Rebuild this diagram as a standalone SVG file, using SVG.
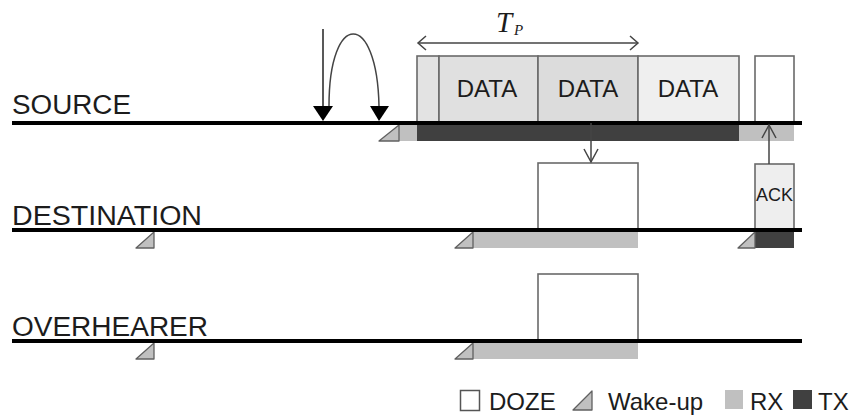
<svg xmlns="http://www.w3.org/2000/svg" width="861" height="417" viewBox="0 0 861 417">
<style>
.lbl{font-family:"Liberation Sans",Arial,sans-serif;font-size:27px;fill:#1c1c1c}
.dt{font-family:"Liberation Sans",Arial,sans-serif;font-size:24px;fill:#1c1c1c;text-anchor:middle}
.lg{font-family:"Liberation Sans",Arial,sans-serif;font-size:24px;fill:#1c1c1c}
.axis{stroke:#000;stroke-width:4;fill:none}
.box{stroke:#6a6a6a;stroke-width:1.6}
.rx{fill:#c0c0c0}
.tx{fill:#404040}
.wk{fill:#c0c0c0;stroke:#606060;stroke-width:1.3;stroke-linejoin:round}
.ln{stroke:#444;stroke-width:1.5;fill:none}
</style>
<rect width="861" height="417" fill="#fff"/>

<g id="source">
  <text class="lbl" x="12" y="114" textLength="119" lengthAdjust="spacingAndGlyphs">SOURCE</text>
  <rect class="box" x="417" y="56" width="22" height="67" fill="#e3e3e3"/>
  <rect class="box" x="439" y="56" width="99" height="67" fill="#e0e0e0"/>
  <rect class="box" x="538" y="56" width="100" height="67" fill="#dcdcdc"/>
  <rect class="box" x="638" y="56" width="101" height="67" fill="#efefef"/>
  <rect class="box" x="755" y="56" width="39" height="67" fill="#fff"/>
  <text class="dt" x="487" y="97">DATA</text>
  <text class="dt" x="588" y="97">DATA</text>
  <text class="dt" x="688" y="97">DATA</text>
  <rect class="rx" x="399" y="125" width="18" height="16"/>
  <rect class="tx" x="417" y="125" width="322" height="16"/>
  <rect class="rx" x="739" y="125" width="55" height="16"/>
  <polygon class="wk" points="379,141 399,125 399,141"/>
  <line class="axis" x1="12" y1="123" x2="802" y2="123"/>
</g>

<g id="destination">
  <text class="lbl" x="12" y="225" textLength="190" lengthAdjust="spacingAndGlyphs">DESTINATION</text>
  <rect class="box" x="538" y="163" width="100" height="67" fill="#fff"/>
  <rect class="box" x="755" y="164" width="39" height="66" fill="#eeeeee"/>
  <text x="774.5" y="201" font-family="Liberation Sans, Arial, sans-serif" font-size="18" fill="#1c1c1c" text-anchor="middle">ACK</text>
  <rect class="rx" x="473" y="232" width="165" height="16"/>
  <rect class="tx" x="755" y="232" width="39" height="16"/>
  <polygon class="wk" points="136,248 154,232 154,248"/>
  <polygon class="wk" points="455,248 473,232 473,248"/>
  <polygon class="wk" points="738,248 755,232 755,248"/>
  <line class="axis" x1="12" y1="230" x2="802" y2="230"/>
</g>

<g id="overhearer">
  <text class="lbl" x="12" y="336" textLength="196" lengthAdjust="spacingAndGlyphs">OVERHEARER</text>
  <rect class="box" x="538" y="274" width="100" height="67" fill="#fff"/>
  <rect class="rx" x="473" y="343" width="165" height="16"/>
  <polygon class="wk" points="136,359 154,343 154,359"/>
  <polygon class="wk" points="455,359 473,343 473,359"/>
  <line class="axis" x1="12" y1="341" x2="802" y2="341"/>
</g>

<g id="tp">
  <line class="ln" x1="418" y1="43" x2="638" y2="43"/>
  <polyline class="ln" points="426,36 418,43 426,50"/>
  <polyline class="ln" points="630,36 638,43 630,50"/>
  <text x="496" y="32" font-family="Liberation Serif, Times New Roman, serif" font-style="italic" font-size="29" fill="#1c1c1c">T</text>
  <text x="514" y="35" font-family="Liberation Serif, Times New Roman, serif" font-style="italic" font-size="15" fill="#1c1c1c">P</text>
</g>

<g id="connectors">
  <line x1="323" y1="29" x2="323" y2="108" stroke="#222" stroke-width="1.5"/>
  <polygon points="313,106 333,106 323,121" fill="#000"/>
  <path class="ln" d="M329 106 C329 10 377 10 379 106"/>
  <polygon points="370,106 389,106 379,121" fill="#000"/>
  <line class="ln" x1="591" y1="123" x2="591" y2="162"/>
  <polyline class="ln" points="584,149 591,162 598,149"/>
  <line class="ln" x1="769" y1="164" x2="769" y2="125"/>
  <polyline class="ln" points="762,138 769,125 776,138"/>
</g>

<g id="legend">
  <rect x="460.5" y="390.5" width="19" height="20" fill="#fff" stroke="#555" stroke-width="1.5"/>
  <text class="lg" x="489" y="410">DOZE</text>
  <polygon class="wk" points="573,410 592,391 592,410"/>
  <text class="lg" x="608" y="410">Wake-up</text>
  <rect class="rx" x="725" y="390" width="18" height="19"/>
  <text class="lg" x="750" y="410">RX</text>
  <rect class="tx" x="793" y="390" width="19" height="19"/>
  <text class="lg" x="818" y="410">TX</text>
</g>
</svg>
